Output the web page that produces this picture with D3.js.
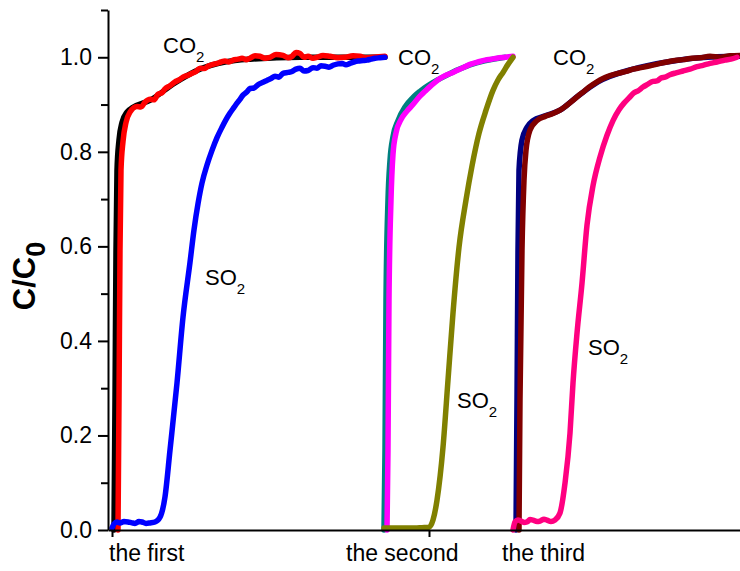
<!DOCTYPE html>
<html>

<head>
    <meta charset="utf-8">
    <title>Breakthrough curves</title>
    <script src="https://d3js.org/d3.v7.min.js"></script>
    <style>
        body { margin: 0; background: #fff; }
        svg text { font-family: Arial, "Liberation Sans", sans-serif; fill: #000; }
    </style>
</head>

<body>
    <div id="graph"></div>

    <script>
        // x: time offset (arbitrary units), y: C/C0
        const co2First0 = [[6, 0], [7, 0.275], [8, 0.592], [9, 0.761], [11, 0.825], [14, 0.862], [19, 0.884], [25, 0.894],
            [42, 0.909], [67, 0.946], [92, 0.975], [117, 0.99], [142, 0.996], [192, 1.0], [277, 1.0]];
        const co2First = [[10, 0], [11, 0.275], [12, 0.592], [13, 0.761], [15, 0.822], [18, 0.862], [22, 0.884], [29, 0.896],
            [33, 0.895], [37, 0.905], [42, 0.911], [46, 0.91], [50, 0.922], [54, 0.925], [57, 0.933], [62, 0.94],
            [67, 0.948], [71, 0.952], [75, 0.958], [80, 0.962], [84, 0.966], [88, 0.97], [92, 0.977], [96, 0.976],
            [100, 0.981], [105, 0.985], [109, 0.987], [113, 0.99], [117, 0.992], [121, 0.99], [125, 0.994],
            [130, 0.996], [134, 0.998], [138, 0.995], [142, 0.998], [147, 1.003], [152, 1.002], [157, 0.998],
            [162, 1.0], [168, 1.006], [175, 1.004], [180, 0.999], [184, 1.002], [188, 1.01], [192, 1.008],
            [196, 1.0], [200, 1.002], [205, 0.998], [209, 1.0], [215, 1.004], [222, 1.002], [230, 0.999],
            [237, 1.0], [245, 1.003], [252, 1.002], [258, 0.999], [265, 1.0], [277, 1.002]];
        const so2First = [[4, 0.004], [6, 0.013], [9, 0.017], [12, 0.015], [16, 0.018], [20, 0.017], [24, 0.015],
            [27, 0.014], [31, 0.018], [34, 0.017], [38, 0.014], [42, 0.015], [47, 0.017], [52, 0.027], [57, 0.07],
            [62, 0.169], [69, 0.311], [75, 0.45], [82, 0.566], [86, 0.635], [90, 0.69], [94, 0.734], [99, 0.772],
            [104, 0.803], [109, 0.83], [114, 0.852], [118, 0.868], [122, 0.882], [126, 0.894], [129, 0.903],
            [132, 0.911], [135, 0.92], [139, 0.927], [142, 0.934], [146, 0.935], [150, 0.942], [155, 0.947],
            [159, 0.951], [163, 0.955], [167, 0.96], [171, 0.958], [175, 0.966], [180, 0.968], [184, 0.97],
            [188, 0.975], [192, 0.977], [196, 0.971], [200, 0.972], [205, 0.978], [209, 0.977], [213, 0.982],
            [217, 0.981], [221, 0.979], [225, 0.983], [230, 0.986], [234, 0.987], [238, 0.984], [242, 0.987],
            [246, 0.99], [250, 0.992], [255, 0.993], [259, 0.994], [263, 0.996], [267, 0.998], [272, 0.999],
            [277, 1.0]];

        const co2Second0 = [[276, 0], [277, 0.169], [278, 0.486], [280, 0.698], [282, 0.782], [285, 0.832],
            [290, 0.866], [297, 0.895], [305, 0.915], [312, 0.928], [332, 0.955], [362, 0.984], [397, 1.0]];
        const co2Second = [[279, 0], [280, 0.169], [281, 0.486], [283, 0.698], [285, 0.795], [288, 0.84],
            [293, 0.868], [299, 0.886], [305, 0.9], [312, 0.918], [317, 0.928], [322, 0.938], [327, 0.947],
            [332, 0.955], [339, 0.963], [345, 0.968], [350, 0.973], [356, 0.979], [362, 0.985], [370, 0.99],
            [377, 0.994], [383, 0.996], [389, 0.998], [397, 1.0], [405, 1.002]];
        const so2Second = [[276, 0.004], [284, 0.004], [292, 0.004], [300, 0.004], [307, 0.004], [314, 0.005],
            [321, 0.006], [325, 0.021], [329, 0.063], [335, 0.175], [340, 0.317], [345, 0.459], [351, 0.598],
            [358, 0.698], [364, 0.77], [371, 0.839], [378, 0.888], [385, 0.93], [390, 0.952], [395, 0.968],
            [400, 0.985], [405, 1.0]];

        const co2Third0 = [[408, 0], [409, 0.275], [410, 0.592], [411, 0.761], [414, 0.825], [419, 0.852],
            [425, 0.866], [437, 0.876], [452, 0.888], [470, 0.918], [490, 0.948], [525, 0.975], [559, 0.99],
            [592, 0.999], [632, 1.002]];
        const co2Third = [[411, 0], [412, 0.275], [414, 0.592], [416, 0.74], [418, 0.803], [422, 0.846],
            [429, 0.866], [437, 0.875], [445, 0.881], [452, 0.888], [458, 0.897], [464, 0.907], [470, 0.918],
            [476, 0.928], [482, 0.938], [489, 0.948], [495, 0.955], [502, 0.961], [510, 0.966], [518, 0.97],
            [525, 0.975], [533, 0.978], [542, 0.982], [550, 0.986], [559, 0.99], [567, 0.993],
            [575, 0.995], [584, 0.998], [592, 0.999], [602, 1.002], [612, 1.0], [622, 1.003], [632, 1.004]];
        const so2Third = [[405, 0], [407, 0.017], [410, 0.021], [412, 0.02], [416, 0.016], [419, 0.017],
            [422, 0.022], [425, 0.021], [429, 0.018], [432, 0.019], [436, 0.023], [439, 0.021], [443, 0.018],
            [447, 0.021], [452, 0.036], [457, 0.099], [462, 0.205], [465, 0.311], [469, 0.416], [474, 0.522],
            [479, 0.645], [485, 0.728], [492, 0.789], [499, 0.835], [505, 0.866], [511, 0.889], [516, 0.903],
            [521, 0.914], [526, 0.925], [530, 0.929], [535, 0.937], [539, 0.942], [545, 0.949], [549, 0.95],
            [553, 0.956], [557, 0.958], [562, 0.963], [568, 0.967], [575, 0.971], [582, 0.975], [589, 0.98],
            [595, 0.983], [602, 0.987], [609, 0.99], [617, 0.994], [623, 0.996], [629, 1.0]];

        const series = [
            { data: co2First0, color: "#000000" },
            { data: co2First, color: "#ff0000" },
            { data: so2First, color: "#0000ff" },
            { data: co2Second0, color: "#008080" },
            { data: co2Second, color: "#ff00ff" },
            { data: so2Second, color: "#808000" },
            { data: co2Third0, color: "#000080" },
            { data: co2Third, color: "#800000" },
            { data: so2Third, color: "#ff0080" }
        ];

        const yTicks = [0, 0.2, 0.4, 0.6, 0.8, 1.0];
        const yMinorTicks = [0.1, 0.3, 0.5, 0.7, 0.9, 1.1];
        const xTicks = [4, 321];
        const runLabels = [["the first", 1], ["the second", 238], ["the third", 394]];
        const gasLabels = [["CO", 55, 1.008], ["CO", 290, 0.983], ["CO", 445, 0.983],
            ["SO", 97, 0.518], ["SO", 349, 0.258], ["SO", 480, 0.37]];

        const width = 740, height = 571;
        const margin = { left: 108, top: 10, bottom: 41, right: 0 };

        const svg = d3.select("#graph").append("svg")
            .attr("width", width)
            .attr("height", height);

        const x = d3.scaleLinear().domain([0, 632]).range([margin.left, width - margin.right]);
        const y = d3.scaleLinear().domain([0, 1.1]).range([height - margin.bottom, margin.top]);

        // curves
        const line = d3.line()
            .x(d => x(d[0]))
            .y(d => y(d[1]))
            .curve(d3.curveMonotoneX);

        svg.append("g")
            .selectAll("path")
            .data(series)
            .enter()
            .append("path")
            .attr("d", d => line(d.data))
            .attr("fill", "none")
            .attr("stroke", d => d.color)
            .attr("stroke-width", 5.5)
            .attr("stroke-linejoin", "round")
            .attr("stroke-linecap", "round");

        // y axis
        const yAxis = svg.append("g")
            .attr("transform", "translate(" + x(0) + ",0)")
            .call(d3.axisLeft(y).tickValues(yTicks).tickFormat(d3.format(".1f"))
                .tickSize(10).tickPadding(6).tickSizeOuter(0));
        yAxis.selectAll("text").style("font-size", "23px");

        svg.append("g")
            .attr("transform", "translate(" + x(0) + ",0)")
            .call(d3.axisLeft(y).tickValues(yMinorTicks).tickFormat("").tickSizeOuter(0).tickSize(7))
            .select(".domain").remove();

        svg.selectAll(".domain, .tick line").attr("stroke", "#000").attr("stroke-width", 2);

        // x axis
        const xAxis = svg.append("g")
            .attr("transform", "translate(0," + y(0) + ")")
            .call(d3.axisBottom(x).tickValues(xTicks).tickFormat("").tickSize(7).tickSizeOuter(0));
        xAxis.selectAll(".domain, .tick line").attr("stroke", "#000").attr("stroke-width", 2);

        svg.append("g")
            .selectAll("text")
            .data(runLabels)
            .enter()
            .append("text")
            .attr("x", d => x(d[1]))
            .attr("y", y(0) + 31)
            .style("font-size", "23px")
            .text(d => d[0]);

        // curve labels
        const gl = svg.append("g")
            .selectAll("text")
            .data(gasLabels)
            .enter()
            .append("text")
            .attr("x", d => x(d[1]))
            .attr("y", d => y(d[2]))
            .style("font-size", "22px");
        gl.append("tspan").text(d => d[0]);
        gl.append("tspan").attr("dy", 9).style("font-size", "15px").text("2");

        // y title
        const yt = svg.append("text")
            .attr("transform", "translate(35,276) rotate(-90)")
            .attr("text-anchor", "middle")
            .style("font-size", "31px")
            .style("font-weight", "bold");
        yt.append("tspan").text("C/C");
        yt.append("tspan").attr("dy", 10).style("font-size", "27px").text("0");
    </script>
</body>

</html>
